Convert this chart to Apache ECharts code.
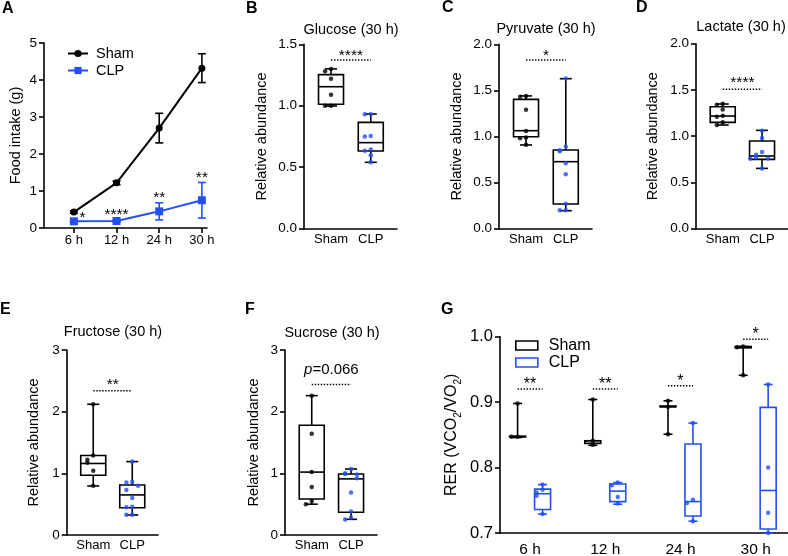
<!DOCTYPE html>
<html><head><meta charset="utf-8">
<script src="https://cdn.jsdelivr.net/npm/echarts@6/dist/echarts.min.js"></script>
<style>html,body{margin:0;padding:0;background:#fff}#c{width:788px;height:556px}</style>
</head><body><div id="c"></div>
<script>
// ---------------- DATA ----------------
const timeLabels = ['6 h', '12 h', '24 h', '30 h'];
const groupLabels = ['Sham', 'CLP'];

// Panel A: food intake (g), mean and error
const foodSham = [0.43, 1.22, 2.70, 4.32];
const foodShamErr = [0.03, 0.05, 0.40, 0.39];
const foodCLP = [0.18, 0.19, 0.45, 0.75];
const foodCLPErr = [0.02, 0.03, 0.23, 0.48];
const foodSig = ['*', '****', '**', '**'];

// Box stats: [min, Q1, median, Q3, max]
const glucoseSham = [0.998, 1.012, 1.155, 1.253, 1.30];
const glucoseCLP = [0.54, 0.632, 0.70, 0.865, 0.933];
const glucoseShamPts = [1.30, 1.28, 1.22, 1.09, 1.00, 1.00];
const glucoseCLPPts = [0.93, 0.93, 0.754, 0.749, 0.645, 0.635, 0.597, 0.54];

const pyruvateSham = [0.908, 0.998, 1.063, 1.403, 1.44];
const pyruvateCLP = [0.195, 0.268, 0.727, 0.854, 1.627];
const pyruvateShamPts = [1.44, 1.43, 1.29, 1.06, 0.99, 0.98, 0.91];
const pyruvateCLPPts = [1.63, 0.89, 0.85, 0.84, 0.71, 0.59, 0.27, 0.20, 0.20];

const lactateSham = [1.121, 1.15, 1.218, 1.319, 1.348];
const lactateCLP = [0.652, 0.75, 0.786, 0.948, 1.063];
const lactateShamPts = [1.35, 1.34, 1.29, 1.22, 1.21, 1.15, 1.12];
const lactateCLPPts = [1.06, 0.98, 0.83, 0.80, 0.77, 0.76, 0.76, 0.65];

const fructoseSham = [0.795, 0.97, 1.16, 1.29, 2.12];
const fructoseCLP = [0.324, 0.443, 0.65, 0.81, 1.19];
const fructoseShamPts = [2.12, 1.29, 1.22, 1.17, 1.04, 0.80];
const fructoseCLPPts = [1.19, 0.86, 0.85, 0.80, 0.73, 0.60, 0.46, 0.45, 0.33, 0.33];

const sucroseSham = [0.50, 0.584, 1.02, 1.78, 2.26];
const sucroseCLP = [0.254, 0.37, 0.91, 0.99, 1.07];
const sucroseShamPts = [2.26, 1.64, 1.02, 0.78, 0.55, 0.50];
const sucroseCLPPts = [1.07, 1.00, 0.99, 0.98, 0.92, 0.69, 0.38, 0.28, 0.25];

// Significance labels and bar heights for B-F
const metSig = ['****', '*', '****', '**', 'p=0.066'];
const metSigLine = [1.372, 1.83, 1.507, 2.34, 2.44];
const metSigText = [1.44, 1.92, 1.626, 2.51, 2.68];

// Panel G: RER box stats per time point
const rerSham = [[0.846, 0.847, 0.847, 0.848, 0.898], [0.834, 0.837, 0.841, 0.841, 0.904], [0.851, 0.893, 0.893, 0.894, 0.902], [0.941, 0.983, 0.984, 0.985, 0.985]];
const rerCLP = [[0.729, 0.736, 0.760, 0.767, 0.774], [0.744, 0.748, 0.764, 0.775, 0.777], [0.718, 0.726, 0.748, 0.836, 0.868], [0.700, 0.706, 0.765, 0.892, 0.927]];
const rerShamPts = [[0.898, 0.847, 0.847], [0.904, 0.841, 0.835], [0.902, 0.893, 0.851], [0.985, 0.984, 0.941]];
const rerCLPPts = [[0.774, 0.766, 0.762, 0.757, 0.729], [0.777, 0.773, 0.755, 0.745], [0.868, 0.751, 0.746, 0.718], [0.927, 0.800, 0.731, 0.700]];
const rerSig = ['**', '**', '*', '*'];
const rerSigLine = [0.92, 0.92, 0.925, 0.996];
const rerSigText = [0.933, 0.933, 0.939, 1.010];

// ---------------- STYLE / LAYOUT ----------------
const FONT = '"Liberation Sans", Arial, Helvetica, sans-serif';
const BLACK = '#000000';
const BLUE = '#2350f5';
const AXW = 1.6;

const grids = [
  {left: 44, top: 43, width: 163, height: 185},
  {left: 304, top: 44.3, width: 93, height: 184.4},
  {left: 499, top: 44.3, width: 93, height: 184.4},
  {left: 696, top: 43.7, width: 92, height: 185},
  {left: 66.7, top: 350, width: 91.3, height: 185},
  {left: 285, top: 350, width: 92, height: 185},
  {left: 500, top: 336.7, width: 288, height: 196.3}
].map(g => Object.assign({containLabel: false, outerBoundsMode: 'none'}, g));

function xAxisCfg(gi, min, max, labels, fs, showTick, margin) {
  const vals = labels.map((_, i) => i);
  return {
    gridIndex: gi, type: 'value', min: min, max: max,
    axisLine: {show: true, onZero: false, lineStyle: {color: BLACK, width: AXW}},
    axisTick: {show: showTick, customValues: vals, length: 5, lineStyle: {color: BLACK, width: AXW}},
    splitLine: {show: false},
    axisLabel: {customValues: vals, formatter: v => labels[Math.round(v)], fontSize: fs, color: BLACK, fontFamily: FONT, margin: margin}
  };
}
function yAxisCfg(gi, min, max, interval, dec, name, gap, fs, nfs, extra) {
  const c = {
    gridIndex: gi, type: 'value', min: min, max: max, interval: interval,
    axisLine: {show: true, onZero: false, lineStyle: {color: BLACK, width: AXW}},
    axisTick: {show: true, length: 5, lineStyle: {color: BLACK, width: AXW}},
    splitLine: {show: false},
    axisLabel: {formatter: v => v.toFixed(dec), fontSize: fs, color: BLACK, fontFamily: FONT, margin: 7},
    name: name, nameLocation: 'middle', nameGap: gap,
    nameTextStyle: {fontSize: nfs, color: BLACK, fontFamily: FONT}
  };
  return Object.assign(c, extra || {});
}

const xAxes = [
  xAxisCfg(0, -0.70, 3.12, timeLabels, 13, true, 6),
  xAxisCfg(1, -0.68, 1.66, groupLabels, 13, false, 4),
  xAxisCfg(2, -0.68, 1.66, groupLabels, 13, false, 4),
  xAxisCfg(3, -0.68, 1.66, groupLabels, 13, false, 4),
  xAxisCfg(4, -0.68, 1.66, groupLabels, 13, false, 4),
  xAxisCfg(5, -0.68, 1.66, groupLabels, 13, false, 4),
  xAxisCfg(6, -0.40, 3.43, timeLabels, 15.5, false, 9)
];
const yAxes = [
  yAxisCfg(0, 0, 5, 1, 0, 'Food intake (g)', 21, 13.5, 14.5),
  yAxisCfg(1, 0, 1.5, 0.5, 1, 'Relative abundance', 35, 13.5, 14.5),
  yAxisCfg(2, 0, 2, 0.5, 1, 'Relative abundance', 35, 13.5, 14.5),
  yAxisCfg(3, 0, 2, 0.5, 1, 'Relative abundance', 36, 13.5, 14.5),
  yAxisCfg(4, 0, 3, 1, 0, 'Relative abundance', 25, 13.5, 14.5),
  yAxisCfg(5, 0, 3, 1, 0, 'Relative abundance', 24, 13.5, 14.5),
  yAxisCfg(6, 0.7, 1.0, 0.1, 1, 'RER (VCO{s|2}/VO{s|2})', 37, 16.5, 16, {
    nameTextStyle: {fontSize: 16, color: BLACK, fontFamily: FONT, lineHeight: 22,
      rich: {s: {fontSize: 10, lineHeight: 10, verticalAlign: 'bottom', fontFamily: FONT, color: BLACK}}}
  })
];

// ---------------- RENDER HELPERS ----------------
function boxRender(offset, boxW, capW, color, lw) {
  return function (params, api) {
    const x = api.value(0) + offset;
    const pMin = api.coord([x, api.value(1)]);
    const pQ1 = api.coord([x, api.value(2)]);
    const pMed = api.coord([x, api.value(3)]);
    const pQ3 = api.coord([x, api.value(4)]);
    const pMax = api.coord([x, api.value(5)]);
    const cx = pMin[0];
    const st = {stroke: color, lineWidth: lw, fill: null};
    const ln = (x1, y1, x2, y2) => ({type: 'line', shape: {x1, y1, x2, y2}, style: st});
    return {type: 'group', children: [
      ln(cx, pMax[1], cx, pQ3[1]),
      ln(cx, pQ1[1], cx, pMin[1]),
      ln(cx - capW / 2, pMax[1], cx + capW / 2, pMax[1]),
      ln(cx - capW / 2, pMin[1], cx + capW / 2, pMin[1]),
      {type: 'rect', shape: {x: cx - boxW / 2, y: pQ3[1], width: boxW, height: Math.max(pQ1[1] - pQ3[1], 0.01)}, style: {stroke: color, lineWidth: lw, fill: null}},
      ln(cx - boxW / 2, pMed[1], cx + boxW / 2, pMed[1])
    ]};
  };
}
function errRender(capW, color, lw) {
  return function (params, api) {
    const x = api.value(0), m = api.value(1), e = api.value(2);
    const t = api.coord([x, m + e]), b = api.coord([x, m - e]);
    const st = {stroke: color, lineWidth: lw};
    return {type: 'group', children: [
      {type: 'line', shape: {x1: t[0], y1: t[1], x2: b[0], y2: b[1]}, style: st},
      {type: 'line', shape: {x1: t[0] - capW / 2, y1: t[1], x2: t[0] + capW / 2, y2: t[1]}, style: st},
      {type: 'line', shape: {x1: b[0] - capW / 2, y1: b[1], x2: b[0] + capW / 2, y2: b[1]}, style: st}
    ]};
  };
}
function sigRender(labels, fontSize, dotted) {
  return function (params, api) {
    const i = params.dataIndex;
    const x1 = api.value(0), x2 = api.value(1), yl = api.value(2), yt = api.value(3);
    const p1 = api.coord([x1, yl]), p2 = api.coord([x2, yl]);
    const pt = api.coord([(x1 + x2) / 2, yt]);
    const lab = labels[i];
    const isStar = /^\*+$/.test(lab);
    const children = [];
    if (dotted) children.push({type: 'line', shape: {x1: p1[0], y1: p1[1], x2: p2[0], y2: p2[1]},
      style: {stroke: BLACK, lineWidth: 1.4, lineDash: [1.4, 1.6]}});
    let text = lab, rich = {};
    if (lab.indexOf('p=') === 0) { text = '{i|p}' + lab.slice(1); rich = {i: {fontStyle: 'italic', fontSize: fontSize, fontFamily: FONT, fill: BLACK}}; }
    children.push({type: 'text', x: pt[0], y: pt[1] + (isStar ? fontSize * 0.28 : 0),
      style: {text: text, rich: rich, fontSize: fontSize, fontFamily: FONT, fill: BLACK, align: 'center', verticalAlign: 'middle'}});
    return {type: 'group', children: children};
  };
}
// deterministic spreading of points that share a similar value
function spread(vals, center, step, tol) {
  const placed = [];
  const pattern = [0, -1, 1, -2, 2, -3, 3];
  return vals.map(v => {
    const near = placed.filter(p => Math.abs(p - v) < tol).length;
    placed.push(v);
    return [center + pattern[near % pattern.length] * step, v];
  });
}

const series = [];

// ---------- Panel A ----------
series.push({
  name: 'Sham', type: 'line', xAxisIndex: 0, yAxisIndex: 0, z: 5,
  data: foodSham.map((v, i) => [i, v]), symbol: 'circle', symbolSize: 7,
  itemStyle: {color: BLACK}, lineStyle: {color: BLACK, width: 2}
});
series.push({
  name: 'CLP', type: 'line', xAxisIndex: 0, yAxisIndex: 0, z: 4,
  data: foodCLP.map((v, i) => [i, v]), symbol: 'rect', symbolSize: 8,
  itemStyle: {color: BLUE}, lineStyle: {color: BLUE, width: 2}
});
series.push({
  type: 'custom', xAxisIndex: 0, yAxisIndex: 0, z: 3, silent: true,
  renderItem: errRender(8, BLACK, 1.6), encode: {x: 0, y: 1},
  data: foodSham.map((v, i) => [i, v, foodShamErr[i]])
});
series.push({
  type: 'custom', xAxisIndex: 0, yAxisIndex: 0, z: 3, silent: true,
  renderItem: errRender(8, BLUE, 1.6), encode: {x: 0, y: 1},
  data: foodCLP.map((v, i) => [i, v, foodCLPErr[i]])
});
// stars above CLP points (first one sits beside the point)
series.push({
  type: 'custom', xAxisIndex: 0, yAxisIndex: 0, z: 6, silent: true, clip: false,
  renderItem: sigRender(foodSig, 15.5, false), encode: {x: [0, 1], y: [2, 3]},
  data: foodCLP.map((v, i) => {
    const top = v + foodCLPErr[i];
    const x = i === 0 ? 0.2 : i;
    const y = i === 0 ? 0.40 : top + 0.25;
    return [x, x, y, y];
  })
});

// ---------- Panels B-F ----------
const metPanels = [
  [glucoseSham, glucoseCLP, glucoseShamPts, glucoseCLPPts, 1.5],
  [pyruvateSham, pyruvateCLP, pyruvateShamPts, pyruvateCLPPts, 2],
  [lactateSham, lactateCLP, lactateShamPts, lactateCLPPts, 2],
  [fructoseSham, fructoseCLP, fructoseShamPts, fructoseCLPPts, 3],
  [sucroseSham, sucroseCLP, sucroseShamPts, sucroseCLPPts, 3]
];
metPanels.forEach((p, k) => {
  const gi = k + 1;
  const tol = p[4] * 0.025;
  [[p[0], p[2], BLACK, 0], [p[1], p[3], BLUE, 1]].forEach(([stats, pts, col, gx]) => {
    series.push({
      type: 'custom', xAxisIndex: gi, yAxisIndex: gi, z: 3, silent: true,
      renderItem: boxRender(0, 25, 12, BLACK, 1.6), encode: {x: 0, y: [1, 2, 3, 4, 5]},
      data: [[gx].concat(stats)]
    });
    series.push({
      type: 'scatter', xAxisIndex: gi, yAxisIndex: gi, z: 5, silent: true,
      symbol: 'circle', symbolSize: 4.5, itemStyle: {color: col},
      data: spread(pts, gx, 0.15, tol)
    });
  });
  series.push({
    type: 'custom', xAxisIndex: gi, yAxisIndex: gi, z: 6, silent: true, clip: false,
    renderItem: sigRender([metSig[k]], metSig[k].indexOf('p=') === 0 ? 15 : 15.5, true),
    encode: {x: [0, 1], y: [2, 3]},
    data: [[0, 1, metSigLine[k], metSigText[k]]]
  });
});

// ---------- Panel G ----------
const gOff = 0.166;
series.push({
  name: 'Sham-G', type: 'custom', xAxisIndex: 6, yAxisIndex: 6, z: 3, silent: true, clip: false,
  itemStyle: {color: BLACK},
  renderItem: boxRender(-gOff, 16, 9, BLACK, 1.6), encode: {x: 0, y: [1, 2, 3, 4, 5]},
  data: rerSham.map((s, i) => [i].concat(s))
});
series.push({
  name: 'CLP-G', type: 'custom', xAxisIndex: 6, yAxisIndex: 6, z: 3, silent: true, clip: false,
  itemStyle: {color: BLUE},
  renderItem: boxRender(gOff, 16, 9, BLUE, 1.6), encode: {x: 0, y: [1, 2, 3, 4, 5]},
  data: rerCLP.map((s, i) => [i].concat(s))
});
series.push({
  type: 'scatter', xAxisIndex: 6, yAxisIndex: 6, z: 5, silent: true, symbolSize: 4.5,
  itemStyle: {color: BLACK},
  data: [].concat(...rerShamPts.map((pts, i) => spread(pts, i - gOff, 0.08, 0.006)))
});
series.push({
  type: 'scatter', xAxisIndex: 6, yAxisIndex: 6, z: 5, silent: true, symbolSize: 4.5,
  itemStyle: {color: BLUE},
  data: [].concat(...rerCLPPts.map((pts, i) => spread(pts, i + gOff, 0.08, 0.006)))
});
series.push({
  type: 'custom', xAxisIndex: 6, yAxisIndex: 6, z: 6, silent: true, clip: false,
  renderItem: sigRender(rerSig, 16, true), encode: {x: [0, 1], y: [2, 3]},
  data: rerSig.map((s, i) => [i - gOff, i + gOff, rerSigLine[i], rerSigText[i]])
});

// ---------------- TEXT (titles, panel letters) ----------------
const titleTexts = [
  ['Glucose (30 h)', 351, 30], ['Pyruvate (30 h)', 546, 29], ['Lactate (30 h)', 741, 27],
  ['Fructose (30 h)', 113, 332], ['Sucrose (30 h)', 332, 333]
];
const letters = [['A', 2, 9], ['B', 246, 9], ['C', 442, 8], ['D', 636, 8], ['E', 0, 310], ['F', 245, 310], ['G', 441, 310]];
const graphics = titleTexts.map(t => ({
  type: 'text', x: t[1], y: t[2], silent: true,
  style: {text: t[0], fontSize: 14.5, fontFamily: FONT, fill: BLACK, align: 'center', verticalAlign: 'middle'}
})).concat(letters.map(l => ({
  type: 'text', x: l[1], y: l[2], silent: true,
  style: {text: l[0], fontSize: 16, fontWeight: 'bold', fontFamily: FONT, fill: BLACK, align: 'left', verticalAlign: 'middle'}
})));

const chart = echarts.init(document.getElementById('c'), null, {renderer: 'canvas'});
chart.setOption({
  animation: false,
  backgroundColor: '#ffffff',
  textStyle: {fontFamily: FONT, color: BLACK},
  grid: grids,
  xAxis: xAxes,
  yAxis: yAxes,
  legend: [
    {data: ['Sham', 'CLP'], left: 62, top: 41, orient: 'vertical', itemWidth: 20, itemHeight: 9, itemGap: 2,
      selectedMode: false, textStyle: {fontSize: 14.5, color: BLACK, fontFamily: FONT, padding: [0, 0, 0, 3]}},
    {data: [
      {name: 'Sham-G', icon: 'rect', itemStyle: {color: 'rgba(0,0,0,0)', borderColor: BLACK, borderWidth: 1.6}},
      {name: 'CLP-G', icon: 'rect', itemStyle: {color: 'rgba(0,0,0,0)', borderColor: BLUE, borderWidth: 1.6}}
    ], formatter: n => n.replace('-G', ''), left: 510, top: 332, orient: 'vertical', itemWidth: 22, itemHeight: 9, itemGap: 0,
      selectedMode: false, textStyle: {fontSize: 16, color: BLACK, fontFamily: FONT, lineHeight: 17, padding: [0, 0, 0, 6]}}
  ],
  graphic: graphics,
  series: series
});
</script>
</body></html>
